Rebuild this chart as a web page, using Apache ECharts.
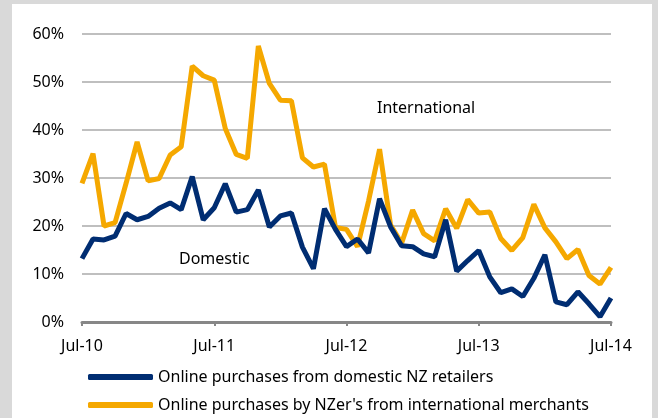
<!DOCTYPE html>
<html>
<head>
<meta charset="utf-8">
<script src="https://cdn.jsdelivr.net/npm/echarts@6/dist/echarts.min.js"></script>
<style>
  html, body { margin: 0; padding: 0; background: #d9d9d9; }
  #panel { position: absolute; left: 12px; top: 4px; width: 640px; height: 420px; background: #fff; }
  #main { position: absolute; left: 0; top: 0; width: 658px; height: 418px; }
</style>
</head>
<body>
<div id="panel"></div>
<div id="main"></div>
<script>
// monthly, Jul-10 .. Jul-14
const months = [
  'Jul-10', 'Aug-10', 'Sep-10', 'Oct-10', 'Nov-10', 'Dec-10', 'Jan-11', 'Feb-11', 'Mar-11', 'Apr-11', 'May-11', 'Jun-11',
  'Jul-11', 'Aug-11', 'Sep-11', 'Oct-11', 'Nov-11', 'Dec-11', 'Jan-12', 'Feb-12', 'Mar-12', 'Apr-12', 'May-12', 'Jun-12',
  'Jul-12', 'Aug-12', 'Sep-12', 'Oct-12', 'Nov-12', 'Dec-12', 'Jan-13', 'Feb-13', 'Mar-13', 'Apr-13', 'May-13', 'Jun-13',
  'Jul-13', 'Aug-13', 'Sep-13', 'Oct-13', 'Nov-13', 'Dec-13', 'Jan-14', 'Feb-14', 'Mar-14', 'Apr-14', 'May-14', 'Jun-14',
  'Jul-14',
]

const domestic = [
  13.2, 17.3, 17.1, 17.9, 22.6, 21.3, 22.0, 23.7, 24.8, 23.4, 30.3, 21.3,
  23.8, 28.8, 22.9, 23.4, 27.5, 19.8, 22.1, 22.7, 15.6, 11.1, 23.6, 19.3,
  15.7, 17.3, 14.4, 25.7, 19.8, 15.9, 15.7, 14.2, 13.6, 21.3, 10.6, 12.8,
  14.9, 9.4, 6.1, 6.9, 5.3, 9.1, 14.0, 4.2, 3.6, 6.3, 3.8, 1.1,
  5.0,
]

const international = [
  28.9, 35.1, 20.0, 20.7, 28.9, 37.5, 29.4, 29.9, 34.8, 36.5, 53.3, 51.3,
  50.4, 40.3, 34.9, 34.1, 57.5, 49.7, 46.2, 46.1, 34.2, 32.3, 32.9, 19.7,
  19.3, 15.7, 25.2, 36.0, 20.2, 16.4, 23.3, 18.4, 16.9, 23.6, 19.5, 25.5,
  22.7, 22.9, 17.4, 14.9, 17.6, 24.5, 19.6, 16.7, 13.2, 15.1, 9.7, 7.9,
  11.4,
]

const seriesNames = [
  'Online purchases from domestic NZ retailers',
  'Online purchases by NZer\'s from international merchants',
]

const font = 'Noto Sans'
const navy = '#002d72'
const orange = '#f5a800'

const myChart = echarts.init(document.getElementById('main'))

// one legend box per row, stacked like the original
function legendRow(name, top) {
  return {
    left: 83,
    top: top,
    itemWidth: 65,
    itemHeight: 6,
    icon: 'roundRect',
    textStyle: { fontFamily: font, fontSize: 16, color: '#000' },
    data: [name],
  }
}

const option = {
  animation: false,
  backgroundColor: 'transparent',
  textStyle: { fontFamily: font, color: '#000' },
  grid: {
    left: 82,
    right: 47,
    top: 34,
    bottom: 96,
  },
  legend: [
    legendRow(seriesNames[0], 364),
    legendRow(seriesNames[1], 392),
  ],
  xAxis: {
    type: 'category',
    data: months,
    boundaryGap: false,
    axisLine: { lineStyle: { color: '#878787', width: 3 } },
    axisTick: { interval: 11, length: 4, lineStyle: { color: '#878787', width: 2 } },
    axisLabel: { interval: 11, margin: 16, fontSize: 16, color: '#000' },
  },
  yAxis: {
    type: 'value',
    min: 0,
    max: 60,
    interval: 10,
    axisLine: { show: false },
    axisTick: { show: false },
    axisLabel: { formatter: '{value}%', margin: 18, fontSize: 16, color: '#000' },
    splitLine: { lineStyle: { color: '#bfbfbf', width: 2 } },
  },
  series: [
    {
      name: seriesNames[0],
      type: 'line',
      data: domestic,
      symbol: 'none',
      z: 3,
      itemStyle: { color: navy },
      lineStyle: { color: navy, width: 5 },
    },
    {
      name: seriesNames[1],
      type: 'line',
      data: international,
      symbol: 'none',
      z: 2,
      itemStyle: { color: orange },
      lineStyle: { color: orange, width: 5 },
    },
  ],
  graphic: [
    {
      type: 'text',
      left: 377,
      top: 100,
      style: { text: 'International', font: '16px "Noto Sans"', fill: '#000' },
    },
    {
      type: 'text',
      left: 179,
      top: 251,
      style: { text: 'Domestic', font: '16px "Noto Sans"', fill: '#000' },
    },
  ],
}

myChart.setOption(option)
</script>
</body>
</html>
